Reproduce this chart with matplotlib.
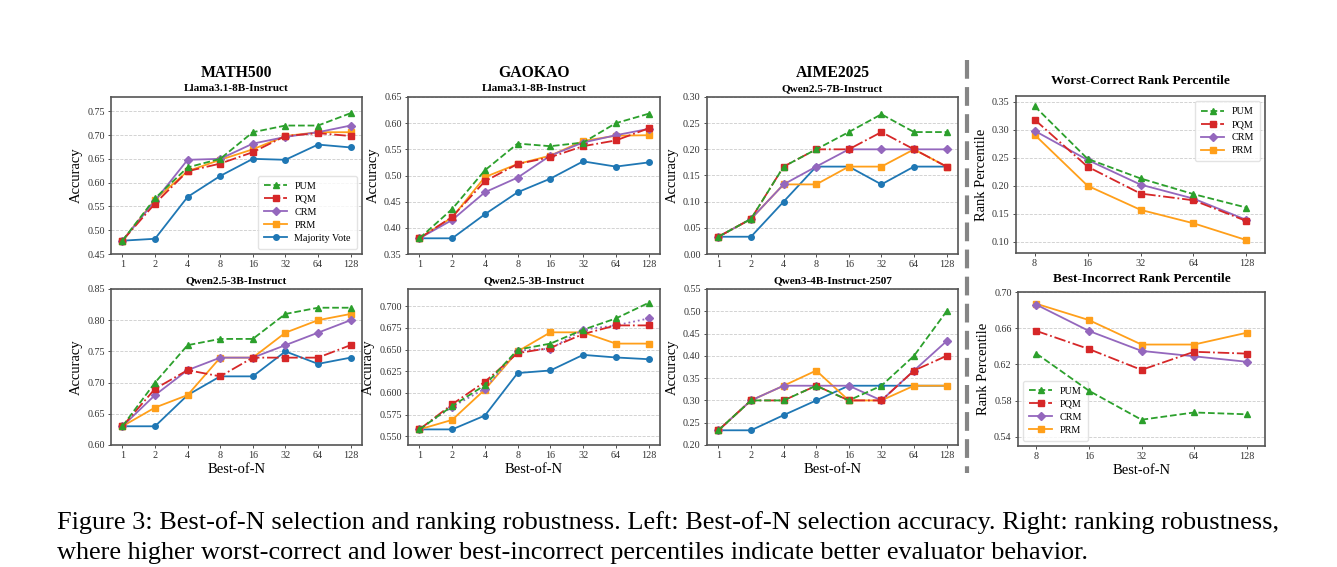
import matplotlib
matplotlib.use("Agg")
import matplotlib.pyplot as plt
from matplotlib.lines import Line2D

plt.rcParams["font.family"] = ["Liberation Serif", "DejaVu Serif"]

# Best-of-N values
n_labels = ["1", "2", "4", "8", "16", "32", "64", "128"]
rank_labels = ["8", "16", "32", "64", "128"]

# MATH500, Llama3.1-8B-Instruct
math_llama_pum = [0.478, 0.567, 0.632, 0.650, 0.706, 0.720, 0.720, 0.746]
math_llama_pqm = [0.478, 0.556, 0.624, 0.640, 0.664, 0.698, 0.704, 0.698]
math_llama_crm = [0.478, 0.562, 0.648, 0.650, 0.682, 0.696, 0.706, 0.720]
math_llama_prm = [0.478, 0.564, 0.624, 0.648, 0.670, 0.698, 0.706, 0.706]
math_llama_mv = [0.478, 0.482, 0.570, 0.614, 0.650, 0.648, 0.680, 0.674]

# GAOKAO, Llama3.1-8B-Instruct
gk_llama_pum = [0.380, 0.436, 0.510, 0.561, 0.556, 0.563, 0.600, 0.618]
gk_llama_pqm = [0.380, 0.421, 0.489, 0.522, 0.535, 0.556, 0.567, 0.590]
gk_llama_crm = [0.380, 0.415, 0.468, 0.496, 0.538, 0.563, 0.577, 0.589]
gk_llama_prm = [0.380, 0.420, 0.497, 0.522, 0.538, 0.566, 0.576, 0.577]
gk_llama_mv = [0.380, 0.380, 0.426, 0.468, 0.494, 0.527, 0.517, 0.525]

# AIME2025, Qwen2.5-7B-Instruct
aime_q7_pum = [0.033, 0.067, 0.167, 0.200, 0.233, 0.267, 0.233, 0.233]
aime_q7_pqm = [0.033, 0.067, 0.167, 0.200, 0.200, 0.233, 0.200, 0.167]
aime_q7_crm = [0.033, 0.067, 0.133, 0.167, 0.200, 0.200, 0.200, 0.200]
aime_q7_prm = [0.033, 0.067, 0.133, 0.133, 0.167, 0.167, 0.200, 0.167]
aime_q7_mv = [0.033, 0.033, 0.100, 0.167, 0.167, 0.133, 0.167, 0.167]

# MATH500, Qwen2.5-3B-Instruct
math_q3_pum = [0.63, 0.70, 0.76, 0.77, 0.77, 0.81, 0.82, 0.82]
math_q3_pqm = [0.63, 0.69, 0.72, 0.71, 0.74, 0.74, 0.74, 0.76]
math_q3_crm = [0.63, 0.68, 0.72, 0.74, 0.74, 0.76, 0.78, 0.80]
math_q3_prm = [0.63, 0.66, 0.68, 0.74, 0.74, 0.78, 0.80, 0.81]
math_q3_mv = [0.63, 0.63, 0.68, 0.71, 0.71, 0.75, 0.73, 0.74]

# GAOKAO, Qwen2.5-3B-Instruct
gk_q3_pum = [0.558, 0.585, 0.609, 0.650, 0.657, 0.673, 0.686, 0.704]
gk_q3_pqm = [0.558, 0.587, 0.613, 0.646, 0.652, 0.668, 0.678, 0.678]
gk_q3_crm = [0.558, 0.584, 0.605, 0.649, 0.651, 0.673, 0.678, 0.686]
gk_q3_prm = [0.558, 0.569, 0.604, 0.648, 0.670, 0.670, 0.657, 0.657]
gk_q3_mv = [0.558, 0.558, 0.574, 0.623, 0.626, 0.644, 0.641, 0.639]

# AIME2025, Qwen3-4B-Instruct-2507
aime_q4_pum = [0.233, 0.300, 0.300, 0.333, 0.300, 0.333, 0.400, 0.500]
aime_q4_pqm = [0.233, 0.300, 0.300, 0.333, 0.300, 0.300, 0.367, 0.400]
aime_q4_crm = [0.233, 0.300, 0.333, 0.333, 0.333, 0.300, 0.367, 0.433]
aime_q4_prm = [0.233, 0.300, 0.333, 0.367, 0.300, 0.300, 0.333, 0.333]
aime_q4_mv = [0.233, 0.233, 0.267, 0.300, 0.333, 0.333, 0.333, 0.333]

# rank percentiles
worst_pum = [0.342, 0.248, 0.213, 0.185, 0.161]
worst_pqm = [0.318, 0.234, 0.186, 0.174, 0.137]
worst_crm = [0.298, 0.246, 0.202, 0.177, 0.139]
worst_prm = [0.291, 0.200, 0.157, 0.133, 0.103]

best_pum = [0.632, 0.591, 0.559, 0.567, 0.565]
best_pqm = [0.657, 0.637, 0.614, 0.634, 0.632]
best_crm = [0.686, 0.657, 0.635, 0.629, 0.623]
best_prm = [0.687, 0.669, 0.642, 0.642, 0.655]

GREEN = "#2ca02c"
RED = "#d62728"
PURPLE = "#9467bd"
ORANGE = "#ff9f1a"
BLUE = "#1f77b4"
SPINE = "#555555"

W, H = 1337, 567
fig = plt.figure(figsize=(W / 100, H / 100), dpi=100)


def px_axes(left, top, right, bottom):
    return fig.add_axes([left / W, 1 - bottom / H, (right - left) / W, (bottom - top) / H])


def style(ax, labels, ylim, yticks, yfmt, ylabel, xlabel=None):
    ax.set_xticks(range(len(labels)))
    ax.set_xticklabels(labels)
    ax.set_xlim(-0.35, len(labels) - 0.65)
    ax.set_ylim(*ylim)
    ax.set_yticks(yticks)
    ax.set_yticklabels([yfmt.format(t) for t in yticks])
    ax.tick_params(labelsize=7.3, colors="#333333", length=2.5, width=0.6, pad=2)
    ax.grid(axis="y", linestyle="--", color="#cccccc", linewidth=0.6)
    ax.set_axisbelow(True)
    for s in ax.spines.values():
        s.set_color(SPINE)
        s.set_linewidth(1.2)
    ax.set_ylabel(ylabel, fontsize=10.5, labelpad=3)
    if xlabel:
        ax.set_xlabel(xlabel, fontsize=10.5, labelpad=2)


def draw(ax, pum, pqm, crm, prm, mv=None, crm_ls="-"):
    x = range(len(pum))
    if mv is not None:
        ax.plot(x, mv, "-", marker="o", color=BLUE, lw=1.3, ms=4, label="Majority Vote", zorder=2)
    ax.plot(x, prm, "-", marker="s", color=ORANGE, lw=1.3, ms=4, label="PRM", zorder=3)
    ax.plot(x, crm, crm_ls, marker="D", color=PURPLE, lw=1.3, ms=3.8, label="CRM", zorder=4)
    ax.plot(x, pqm, "-.", marker="s", color=RED, lw=1.3, ms=4, label="PQM", zorder=5)
    ax.plot(x, pum, "--", marker="^", color=GREEN, lw=1.3, ms=4.5, label="PUM", zorder=6)


def legend(ax, loc):
    h, l = ax.get_legend_handles_labels()
    order = ["PUM", "PQM", "CRM", "PRM", "Majority Vote"]
    pairs = [(h[l.index(k)], k) for k in order if k in l]
    ax.legend([p[0] for p in pairs], [p[1] for p in pairs], loc=loc, fontsize=7.3,
              frameon=True, edgecolor="#dddddd", handlelength=2.3, borderpad=0.6,
              labelspacing=0.38, handletextpad=0.7, fancybox=True)


cols = [(111, 362), (408, 660), (707, 958)]
top_row = (97, 254)
bot_row = (289, 445)

# top row
ax = px_axes(cols[0][0], top_row[0], cols[0][1], top_row[1])
draw(ax, math_llama_pum, math_llama_pqm, math_llama_crm, math_llama_prm, math_llama_mv)
style(ax, n_labels, (0.45, 0.78), [0.45, 0.50, 0.55, 0.60, 0.65, 0.70, 0.75], "{:.2f}", "Accuracy")
legend(ax, "lower right")
ax.set_title("Llama3.1-8B-Instruct", fontsize=8.1, fontweight="bold", pad=4)

ax = px_axes(cols[1][0], top_row[0], cols[1][1], top_row[1])
draw(ax, gk_llama_pum, gk_llama_pqm, gk_llama_crm, gk_llama_prm, gk_llama_mv)
style(ax, n_labels, (0.35, 0.65), [0.35, 0.40, 0.45, 0.50, 0.55, 0.60, 0.65], "{:.2f}", "Accuracy")
ax.set_title("Llama3.1-8B-Instruct", fontsize=8.1, fontweight="bold", pad=4)

ax = px_axes(cols[2][0], top_row[0], cols[2][1], top_row[1])
draw(ax, aime_q7_pum, aime_q7_pqm, aime_q7_crm, aime_q7_prm, aime_q7_mv)
style(ax, n_labels, (0.0, 0.30), [0.0, 0.05, 0.10, 0.15, 0.20, 0.25, 0.30], "{:.2f}", "Accuracy")
ax.set_title("Qwen2.5-7B-Instruct", fontsize=8.1, fontweight="bold", pad=4)

# bottom row
ax = px_axes(cols[0][0], bot_row[0], cols[0][1], bot_row[1])
draw(ax, math_q3_pum, math_q3_pqm, math_q3_crm, math_q3_prm, math_q3_mv)
style(ax, n_labels, (0.60, 0.85), [0.60, 0.65, 0.70, 0.75, 0.80, 0.85], "{:.2f}", "Accuracy", "Best-of-N")
ax.set_title("Qwen2.5-3B-Instruct", fontsize=8.1, fontweight="bold", pad=4)

ax = px_axes(cols[1][0], bot_row[0], cols[1][1], bot_row[1])
draw(ax, gk_q3_pum, gk_q3_pqm, gk_q3_crm, gk_q3_prm, gk_q3_mv, crm_ls=":")
style(ax, n_labels, (0.54, 0.72), [0.550, 0.575, 0.600, 0.625, 0.650, 0.675, 0.700], "{:.3f}", "Accuracy", "Best-of-N")
ax.set_title("Qwen2.5-3B-Instruct", fontsize=8.1, fontweight="bold", pad=4)

ax = px_axes(cols[2][0], bot_row[0], cols[2][1], bot_row[1])
draw(ax, aime_q4_pum, aime_q4_pqm, aime_q4_crm, aime_q4_prm, aime_q4_mv)
style(ax, n_labels, (0.20, 0.55), [0.20, 0.25, 0.30, 0.35, 0.40, 0.45, 0.50, 0.55], "{:.2f}", "Accuracy", "Best-of-N")
ax.set_title("Qwen3-4B-Instruct-2507", fontsize=8.1, fontweight="bold", pad=4)

# rank percentile panels
ax = px_axes(1016, 96, 1265, 253)
draw(ax, worst_pum, worst_pqm, worst_crm, worst_prm)
style(ax, rank_labels, (0.08, 0.36), [0.10, 0.15, 0.20, 0.25, 0.30, 0.35], "{:.2f}", "Rank Percentile")
legend(ax, "upper right")
ax.set_title("Worst-Correct Rank Percentile", fontsize=9.6, fontweight="bold", pad=9)

ax = px_axes(1018, 292, 1265, 446)
draw(ax, best_pum, best_pqm, best_crm, best_prm)
style(ax, rank_labels, (0.53, 0.70), [0.54, 0.58, 0.62, 0.66, 0.70], "{:.2f}", "Rank Percentile", "Best-of-N")
legend(ax, "lower left")
ax.set_title("Best-Incorrect Rank Percentile", fontsize=9.6, fontweight="bold", pad=7)

# dataset headers
for name, (l, r) in zip(["MATH500", "GAOKAO", "AIME2025"], cols):
    fig.text((l + r) / 2 / W, 1 - 73 / H, name, ha="center", va="center",
             fontsize=11.3, fontweight="bold")

# separator
fig.add_artist(Line2D([967 / W, 967 / W], [1 - 60 / H, 1 - 473 / H], color="#858585",
                      lw=3, linestyle=(0, (4.5, 2)), transform=fig.transFigure))

# caption
fig.text(57 / W, 1 - 523 / H,
         "Figure 3: Best-of-N selection and ranking robustness. Left: Best-of-N selection accuracy. Right: ranking robustness,",
         fontsize=18.9, va="center", ha="left")
fig.text(57 / W, 1 - 553 / H,
         "where higher worst-correct and lower best-incorrect percentiles indicate better evaluator behavior.",
         fontsize=18.9, va="center", ha="left")

fig.savefig("out.png", dpi=100)
